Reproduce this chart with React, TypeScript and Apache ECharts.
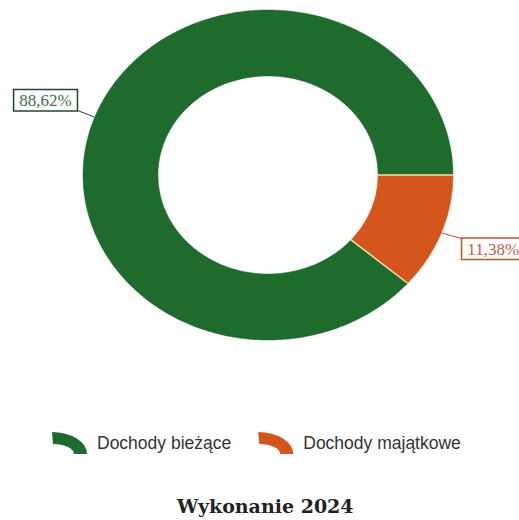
import React, { useEffect, useRef } from "react";
import * as echarts from "echarts";

const categories = ["Dochody bieżące", "Dochody majątkowe"];
const values = [88.62, 11.38];
const sliceColors = ["#1e6b2d", "#d4561c"];
const labelTextColors = ["#3f6f49", "#c0604a"];
const labelBorderColors = ["#1f4a28", "#c0502d"];
const titleText = "Wykonanie 2024";

// layout (px)
const CX = 268;
const CY = 175;
const RX = 185;
const RY = 165;
const IRX = 110;
const IRY = 99;
const START_DEG = 41;
const SEP_COLOR = "#ebe5a4";

const fmt = (v: number) => v.toFixed(2).replace(".", ",") + "%";

const pt = (a: number, rx: number, ry: number) => [CX + rx * Math.cos(a), CY + ry * Math.sin(a)];

const ICON = "path://M0 0 A35 22 0 0 1 35 22 L22 22 A22 10 0 0 0 1 12 Z";

function makeRender(s: number) {
  return (_params: any, _api: any) => {
    const total = values.reduce((a, b) => a + b, 0);
    let before = 0;
    for (let i = 0; i < s; i++) before += values[i];
    const a0 = ((START_DEG + (360 * before) / total) * Math.PI) / 180;
    const a1 = ((START_DEG + (360 * (before + values[s])) / total) * Math.PI) / 180;
    const n = Math.max(8, Math.ceil(((a1 - a0) * 180) / Math.PI));
    const pts: number[][] = [];
    for (let i = 0; i <= n; i++) pts.push(pt(a0 + ((a1 - a0) * i) / n, RX, RY));
    for (let i = n; i >= 0; i--) pts.push(pt(a0 + ((a1 - a0) * i) / n, IRX, IRY));
    const mid = (a0 + a1) / 2;
    const m = pt(mid, RX, RY);
    const right = Math.cos(mid) >= 0;
    const down = Math.sin(mid) >= 0;
    const e = [m[0] + (right ? 21 : -18), m[1] + (down ? 6 : -7)];
    const sIn = pt(a0, IRX, IRY);
    const sOut = pt(a0, RX, RY);
    return {
      type: "group",
      children: [
        {
          type: "polygon",
          shape: { points: pts },
          style: { fill: sliceColors[s], stroke: sliceColors[s], lineWidth: 0.5 },
        },
        {
          type: "line",
          z2: 20,
          shape: { x1: sIn[0], y1: sIn[1], x2: sOut[0], y2: sOut[1] },
          style: { stroke: SEP_COLOR, lineWidth: 1.5 },
        },
        {
          type: "polyline",
          z2: 20,
          shape: { points: [m, e] },
          style: { stroke: labelBorderColors[s], lineWidth: 1, fill: null },
        },
        {
          type: "text",
          z2: 30,
          x: e[0],
          y: e[1],
          style: {
            text: fmt(values[s]),
            fill: labelTextColors[s],
            font: '17px "Liberation Serif"',
            align: right ? "left" : "right",
            verticalAlign: down ? "top" : "bottom",
            backgroundColor: "#ffffff",
            borderColor: labelBorderColors[s],
            borderWidth: 1.5,
            padding: [2, 5, 1, 5],
          },
        },
      ],
    };
  };
}

export default function App() {
  const ref = useRef<HTMLDivElement>(null);
  useEffect(() => {
    if (!ref.current) return;
    const chart = echarts.init(ref.current, undefined, { renderer: "svg" });
    chart.setOption({
      animation: false,
      backgroundColor: "#ffffff",
      title: {
        text: titleText,
        left: 177,
        top: 496,
        padding: 0,
        textStyle: {
          fontFamily: '"DejaVu Serif"',
          fontWeight: "bold",
          fontSize: 19,
          color: "#222222",
        },
      },
      legend: {
        data: categories,
        left: 47,
        top: 427,
        itemWidth: 35,
        itemHeight: 22,
        itemGap: 27,
        icon: ICON,
        textStyle: {
          fontFamily: '"Liberation Sans"',
          fontSize: 17.5,
          color: "#333333",
          padding: [0, 0, 0, 5],
        },
      },
      series: categories.map((name, i) => ({
        type: "custom",
        name,
        coordinateSystem: "none",
        itemStyle: { color: sliceColors[i] },
        data: [values[i]],
        renderItem: makeRender(i),
        silent: true,
      })),
    });
    return () => chart.dispose();
  }, []);
  return (
    <div
      ref={ref}
      style={{ position: "absolute", left: 0, top: 0, width: 519, height: 520 }}
    />
  );
}
